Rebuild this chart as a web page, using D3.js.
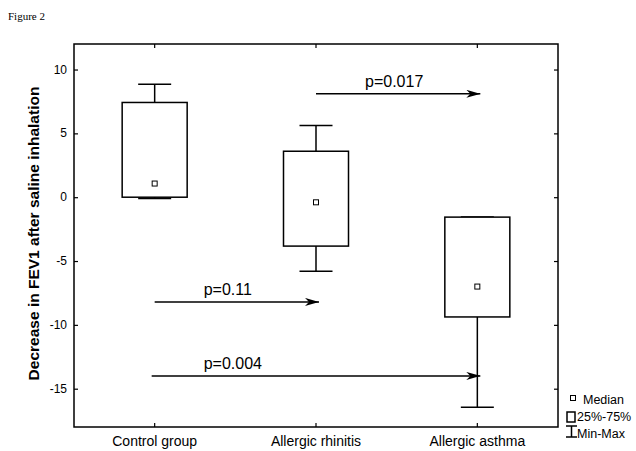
<!DOCTYPE html>
<html lang="en">
<head>
  <meta charset="UTF-8">
  <title>Figure 2</title>
  <script src="https://d3js.org/d3.v7.min.js"></script>
  <style>
    body { margin: 0; background: #fff; }
    svg { display: block; }
    text { font-family: "Liberation Sans", Arial, sans-serif; fill: #000; }
    .frame { fill: none; stroke: #000; stroke-width: 1.5px; }
    .box { fill: #fff; stroke: #000; stroke-width: 1.5px; }
    .whisker { stroke: #000; stroke-width: 1.5px; }
    .median { fill: #fff; stroke: #000; stroke-width: 1px; }
    .arrow { stroke: #000; stroke-width: 1.5px; }
  </style>
</head>
<body>
  <svg width="636" height="451"></svg>
  <script>
    // groups and box stats
    const groups = ["Control group", "Allergic rhinitis", "Allergic asthma"];
    const mins = [-0.1, -5.8, -16.45];
    const q1 = [0, -3.83, -9.38];
    const medians = [1.07, -0.4, -7.0];
    const q3 = [7.42, 3.6, -1.56];
    const maxs = [8.85, 5.62, -1.56];

    // comparison arrows
    const cmpFrom = [1, 0, 0];
    const cmpTo = [2, 1, 2];
    const cmpY = [8.1, -8.2, -14];
    const cmpLabels = ["p=0.017", "p=0.11", "p=0.004"];

    const yTicks = [-15, -10, -5, 0, 5, 10];
    const legendLabels = ["Median", "25%-75%", "Min-Max"];

    const svg = d3.select("svg");
    const pLeft = 74, pRight = 558, pTop = 44, pBottom = 427;

    const x = d3.scaleBand().domain(groups).range([pLeft, pRight]);
    const y = d3.scaleLinear().domain([-18, 12]).range([pBottom, pTop]);
    const cx = g => x(g) + x.bandwidth() / 2;
    const boxW = 65, capW = 33;

    svg.append("text")
      .attr("x", 8).attr("y", 20)
      .style("font-family", "'Liberation Serif', 'Times New Roman', serif")
      .style("font-size", "11px")
      .text("Figure 2");

    svg.append("rect").attr("class", "frame")
      .attr("x", pLeft).attr("y", pTop)
      .attr("width", pRight - pLeft).attr("height", pBottom - pTop);

    // inward ticks on all four sides
    svg.append("g").attr("transform", `translate(${pLeft},0)`)
      .call(d3.axisRight(y).tickValues(yTicks).tickSize(4).tickFormat(""))
      .call(g => g.select(".domain").remove());
    svg.append("g").attr("transform", `translate(${pRight},0)`)
      .call(d3.axisLeft(y).tickValues(yTicks).tickSize(4).tickFormat(""))
      .call(g => g.select(".domain").remove());
    svg.append("g").attr("transform", `translate(0,${pTop})`)
      .call(d3.axisBottom(x).tickSize(4).tickFormat(""))
      .call(g => g.select(".domain").remove());
    svg.append("g").attr("transform", `translate(0,${pBottom})`)
      .call(d3.axisTop(x).tickSize(4).tickFormat(""))
      .call(g => g.select(".domain").remove());
    svg.selectAll(".tick line").attr("stroke", "#000").attr("stroke-width", 1.2);

    // tick labels
    svg.selectAll(".ylab").data(yTicks).enter().append("text")
      .attr("x", pLeft - 7).attr("y", d => y(d) + 4)
      .attr("text-anchor", "end").style("font-size", "12px")
      .text(d => d);
    svg.selectAll(".xlab").data(groups).enter().append("text")
      .attr("x", d => cx(d)).attr("y", 446)
      .attr("text-anchor", "middle").style("font-size", "14px")
      .text(d => d);

    svg.append("text")
      .attr("transform", `translate(39,${(pTop + pBottom) / 2 - 2}) rotate(-90)`)
      .attr("text-anchor", "middle")
      .style("font-size", "15.5px").style("font-weight", "bold")
      .text("Decrease in FEV1 after saline inhalation");

    // boxes
    const bx = svg.append("g");
    groups.forEach((g, i) => {
      const c = cx(g);
      bx.append("line").attr("class", "whisker")
        .attr("x1", c).attr("x2", c).attr("y1", y(maxs[i])).attr("y2", y(mins[i]));
      bx.append("line").attr("class", "whisker")
        .attr("x1", c - capW / 2).attr("x2", c + capW / 2)
        .attr("y1", y(maxs[i])).attr("y2", y(maxs[i]));
      bx.append("line").attr("class", "whisker")
        .attr("x1", c - capW / 2).attr("x2", c + capW / 2)
        .attr("y1", y(mins[i])).attr("y2", y(mins[i]));
      bx.append("rect").attr("class", "box")
        .attr("x", c - boxW / 2).attr("width", boxW)
        .attr("y", y(q3[i])).attr("height", y(q1[i]) - y(q3[i]));
      bx.append("rect").attr("class", "median")
        .attr("x", c - 2.5).attr("y", y(medians[i]) - 2.5)
        .attr("width", 5).attr("height", 5);
    });

    // arrows
    svg.append("defs").append("marker")
      .attr("id", "head").attr("markerUnits", "userSpaceOnUse")
      .attr("viewBox", "0 -4 14 8").attr("refX", 14).attr("refY", 0)
      .attr("markerWidth", 14).attr("markerHeight", 8).attr("orient", "auto")
      .append("path").attr("d", "M0,-4L14,0L0,4L4,0Z").attr("fill", "#000");

    cmpLabels.forEach((lab, i) => {
      const x1 = cx(groups[cmpFrom[i]]) - (i === 2 ? 3 : 0);
      const x2 = cx(groups[cmpTo[i]]) + 3;
      const yy = y(cmpY[i]);
      svg.append("line").attr("class", "arrow")
        .attr("x1", x1).attr("x2", x2).attr("y1", yy).attr("y2", yy)
        .attr("marker-end", "url(#head)");
      svg.append("text")
        .attr("x", cx(groups[cmpFrom[i]]) + 49).attr("y", yy - 7)
        .style("font-size", "16px").text(lab);
    });

    // legend
    const lg = svg.append("g");
    lg.append("rect").attr("class", "median")
      .attr("x", 570.5).attr("y", 395.5).attr("width", 5).attr("height", 5);
    lg.append("rect").attr("fill", "none").attr("stroke", "#000").attr("stroke-width", 1.5)
      .attr("x", 567).attr("y", 412).attr("width", 8).attr("height", 10);
    lg.append("path").attr("fill", "none").attr("stroke", "#000").attr("stroke-width", 1.5)
      .attr("d", "M566,426H577M571.5,426V437M566,437H577");
    lg.selectAll("text").data(legendLabels).enter().append("text")
      .attr("x", (d, i) => i === 0 ? 583 : 577)
      .attr("y", (d, i) => 404 + i * 17)
      .style("font-size", "12.5px")
      .text(d => d);
  </script>
</body>
</html>
